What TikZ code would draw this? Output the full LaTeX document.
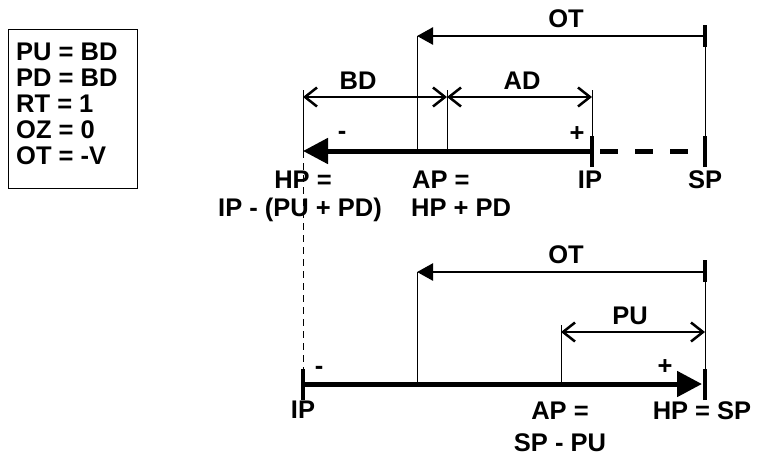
\documentclass[tikz,border=0pt]{standalone}
\usepackage{fontspec}
\setmainfont{Liberation Sans}
\usetikzlibrary{arrows.meta}
\begin{document}
\begin{tikzpicture}[x=1pt,y=-1pt,
  thinl/.style={line width=1pt},
  mainl/.style={line width=5pt},
  tickl/.style={line width=3.5pt},
  diml/.style={line width=2.5pt},
  guide/.style={line width=1pt, dash pattern=on 7pt off 5pt},
  bigtip/.style={-{Triangle[length=25pt,width=25pt]}},
  ottip/.style={-{Triangle[length=16pt,width=17pt]}},
  openboth/.style={{Straight Barb[length=12pt,width=19pt]}-{Straight Barb[length=12pt,width=19pt]}},
  lbl/.style={inner sep=0pt, font=\fontsize{25.5}{27}\selectfont\bfseries},
  sign/.style={inner sep=0pt, font=\fontsize{25.5}{27}\selectfont\bfseries}
]
\useasboundingbox (0,0) rectangle (757,456);

% legend
\node[draw, line width=1.2pt, anchor=north west, minimum width=129pt, minimum height=159pt, inner sep=0pt] (legendbox) at (8,29) {};
\node[lbl, align=left, anchor=north west, font=\fontsize{25.5}{26}\selectfont\bfseries] (legendtext) at (16,43)
  {PU = BD\\PD = BD\\RT = 1\\OZ = 0\\OT = -V};

% ---------- top diagram ----------
\coordinate (tHP) at (303,151);
\coordinate (tOT) at (417,151);
\coordinate (tAP) at (447,151);
\coordinate (tIP) at (592,151);
\coordinate (tSP) at (705,151);
\coordinate (tHPtop) at (303,90);
\coordinate (tAPtop) at (447,90);
\coordinate (tIPtop) at (592,90);
\coordinate (tBDl) at (303,97);
\coordinate (tBDr) at (447,97);
\coordinate (tADr) at (592,97);
\coordinate (tOTl) at (417,36);
\coordinate (tOTr) at (705,36);
\coordinate (tSPtop) at (705,25);
\coordinate (tSPtick) at (705,47);

% thin extension lines
\draw[thinl] (tHPtop) -- (tHP);
\draw[thinl] (tOTl) -- (tOT);
\draw[thinl] (tAPtop) -- (tAP);
\draw[thinl] (tIPtop) -- (tIP);
\draw[thinl] (tSPtop) -- (tSP);

% dimension arrows
\draw[diml, ottip] (tOTr) -- (tOTl);
\draw[tickl] (tSPtop) -- (tSPtick);
\draw[diml, openboth] (tBDl) -- (tBDr);
\draw[diml, openboth] (tBDr) -- (tADr);

% main thick line
\draw[mainl, bigtip] (tIP) -- (tHP);
\draw[mainl, dash pattern=on 18pt off 17pt, dash phase=-8pt] (tIP) -- (tSP);
\draw[tickl] ([yshift=-16pt]tIP) -- ([yshift=15pt]tIP);
\draw[tickl] ([yshift=-16pt]tSP) -- ([yshift=15pt]tSP);

% labels
\node[lbl] (lOTt) at (566,19) {OT};
\node[lbl] (lBD) at (358,81) {BD};
\node[lbl] (lAD) at (522,81) {AD};
\node[sign] (mminus) at (342,135) {-};
\node[sign] (mplus) at (577,134) {+};
\node[lbl, anchor=base] (lHP) at (303,188) {HP =};
\node[lbl, anchor=base] (lHPf) at (300,216) {IP - (PU + PD)};
\node[lbl, anchor=base west] (lAP) at (412,188) {AP =};
\node[lbl, anchor=base west] (lAPf) at (411,216) {HP + PD};
\node[lbl, anchor=base] (lIPt) at (590,188) {IP};
\node[lbl, anchor=base] (lSPt) at (705,188) {SP};

% ---------- bottom diagram ----------
\coordinate (bIP) at (303,384);
\coordinate (bOT) at (417,384);
\coordinate (bAP) at (561,384);
\coordinate (bSP) at (705,384);
\coordinate (bTip) at (702,384);
\coordinate (bOTl) at (417,272);
\coordinate (bOTr) at (705,272);
\coordinate (bAPtop) at (561,325);
\coordinate (bPUl) at (561,332);
\coordinate (bPUr) at (705,332);
\coordinate (bSPtop) at (705,260);
\coordinate (bSPtick) at (705,282);

% guide line
\draw[guide] (tHP) -- (bIP);

\draw[thinl] (bOTl) -- (bOT);
\draw[thinl] (bAPtop) -- (bAP);
\draw[thinl] (bSPtop) -- (bSP);

\draw[diml, ottip] (bOTr) -- (bOTl);
\draw[tickl] (bSPtop) -- (bSPtick);
\draw[diml, openboth] (bPUl) -- (bPUr);

\draw[mainl, bigtip] (bIP) -- (bTip);
\draw[tickl] ([yshift=-16pt]bIP) -- ([yshift=15pt]bIP);
\draw[tickl] ([yshift=-16pt]bSP) -- ([yshift=15pt]bSP);

\node[lbl] (lOTb) at (566,255) {OT};
\node[lbl] (lPU) at (630,316) {PU};
\node[sign] (bminus) at (319,370) {-};
\node[sign] (bplus) at (665,367) {+};
\node[lbl, anchor=base] (lIPb) at (303,418) {IP};
\node[lbl, anchor=base] (lAPb) at (560,419) {AP =};
\node[lbl, anchor=base] (lAPbf) at (560,451) {SP - PU};
\node[lbl, anchor=base] (lHPb) at (702,419) {HP = SP};
\end{tikzpicture}
\end{document}
